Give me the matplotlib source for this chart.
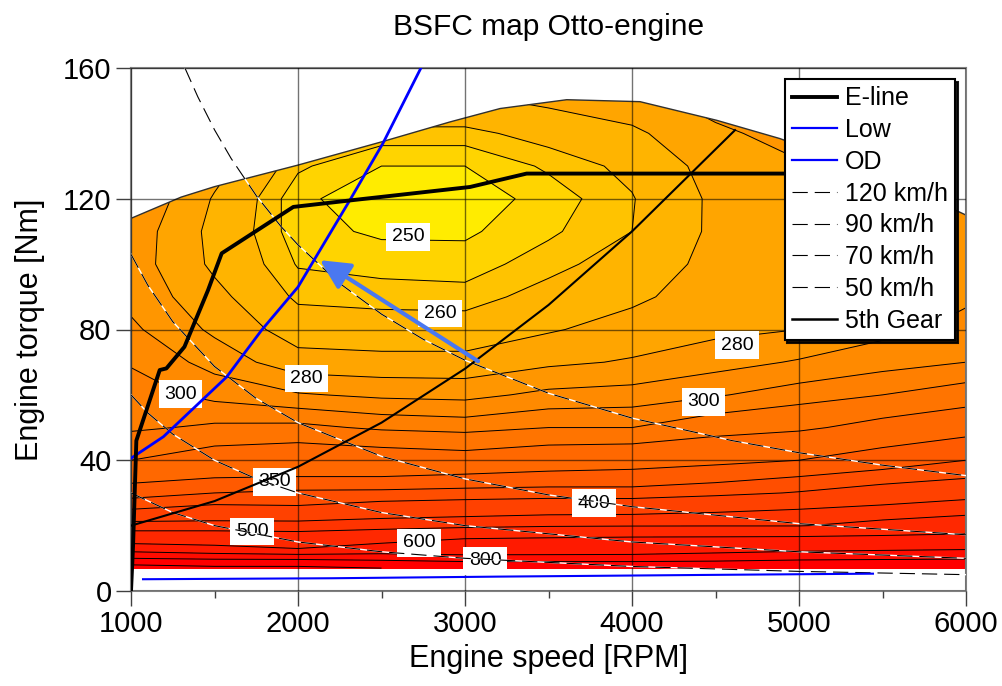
import numpy as np
import matplotlib
matplotlib.use("Agg")
import matplotlib.pyplot as plt
from matplotlib.patches import Polygon
from matplotlib.lines import Line2D

plt.rcParams['font.family'] = ['Liberation Sans', 'DejaVu Sans']
plt.rcParams['lines.scale_dashes'] = False

# ---------------- data ----------------
speed_grid = [1000, 1500, 2000, 2500, 3000, 3500, 4000, 4500, 5000, 5500, 6000]
torque_grid = [7, 10, 13, 16, 20, 25, 30, 35, 40, 50, 60, 70, 80, 90, 100, 110, 120, 130, 140, 150, 160]

# BSFC [g/kWh] per speed column, one value per torque row
bsfc_1000 = [1100, 800, 650, 550, 467, 400, 363, 341, 325, 308, 305, 299, 292, 287, 285, 286, 290, 295, 300, 305, 310]
bsfc_1500 = [1050, 775, 625, 550, 467, 410, 375, 348, 335, 312, 297, 286, 278, 273, 268, 267, 269, 274, 280, 288, 296]
bsfc_2000 = [1050, 767, 600, 540, 467, 406, 380, 350, 339, 313, 291, 274, 265, 258.5, 254.5, 252, 251.5, 256, 264, 275, 286]
bsfc_2500 = [1000, 750, 643, 563, 475, 418, 381, 350, 336, 308, 288, 273, 264, 257.5, 253, 249, 246, 250, 258, 268, 278]
bsfc_3000 = [950, 725, 655, 600, 483, 423, 384, 353, 333, 306, 287, 273, 264, 257, 252.5, 249, 247, 250, 258, 268, 278]
bsfc_3500 = [950, 725, 658, 608, 493, 428, 386, 356, 338, 310, 292.5, 278, 269, 263, 257.7, 254, 252, 256, 263, 272, 281]
bsfc_4000 = [950, 725, 662, 615, 496, 429, 385, 358, 340, 310, 294, 281, 274, 268, 264, 260, 259.5, 262, 268, 276, 284]
bsfc_4500 = [950, 740, 667, 617, 497, 439, 392, 365, 344, 318, 299, 286, 277.5, 275, 273, 272, 272, 274, 278, 284, 290]
bsfc_5000 = [960, 767, 673, 620, 497, 450, 402, 375, 350, 322, 305, 291, 280, 278, 277, 277, 277, 279, 284, 290, 296]
bsfc_5500 = [980, 775, 682, 626, 520, 462, 417, 385, 362, 331, 310, 296, 287, 283, 281.5, 281.5, 282, 284.5, 289.5, 295, 300]
bsfc_6000 = [1000, 783, 690, 633, 543, 475, 433, 396, 375, 340, 316, 300, 293, 288.5, 286, 286, 287, 290, 295, 300, 305]

bsfc_levels = [240, 250, 255, 260, 270, 280, 290, 300, 310, 325, 350, 375, 400, 450, 500, 600, 700, 800, 1000, 3000]

# full-load (max torque) curve
fullload_rpm = [1000, 1300, 1500, 2000, 2500, 2910, 3210, 3609, 4048, 4507, 4886, 5500, 6000]
fullload_nm = [114, 120.5, 123.7, 130.3, 137.4, 143.5, 147.6, 150.3, 149.7, 144, 138.4, 127, 115]

# E-line
eline_rpm = [1000, 1012, 1032, 1172, 1212, 1320, 1461, 1543, 1972, 2331, 3030, 3369, 5850]
eline_nm = [0, 13.5, 46, 67.6, 68.1, 74.7, 92, 103.3, 117.5, 119.6, 123.6, 127.7, 127.7]

# Low gear road load
low_rpm = [1000, 1194, 1573, 1782, 2000, 2132, 2311, 2509, 2736]
low_nm = [40.6, 47.2, 65.5, 79.8, 93, 104.3, 119.6, 137, 160]

# Overdrive road load
od_rpm = [1072, 2200, 3200, 4400, 5443]
od_nm = [3.6, 3.9, 4.4, 4.9, 5.3]

# 5th gear road load
gear5_rpm = [1000, 1500, 2000, 2500, 3000, 3500, 4000, 4617]
gear5_nm = [20, 27.5, 38, 51.5, 68, 87.5, 110, 141]

# constant vehicle speed curves
v120_rpm = [1323, 1400, 1500, 1600, 1752, 1900, 2000, 2250, 2500, 2750, 3000, 3500, 4000, 4600, 5000, 5500, 6000]
v120_nm = [160, 151.2, 141.1, 132.3, 120.8, 111.4, 105.9, 94.1, 84.7, 77, 70.6, 60.5, 52.9, 46, 42.3, 38.5, 35.3]
v90_rpm = [1000, 1100, 1250, 1500, 1750, 2000, 2500, 3000, 3500, 4000, 5000, 6000]
v90_nm = [103, 93.6, 82.4, 68.7, 58.9, 51.5, 41.2, 34.3, 29.4, 25.8, 20.6, 17.2]
v70_rpm = [1000, 1100, 1250, 1500, 1750, 2000, 2500, 3000, 4000, 5000, 6000]
v70_nm = [60, 54.5, 48, 40, 34.3, 30, 24, 20, 15, 12, 10]
v50_rpm = [1000, 1250, 1500, 2000, 2500, 3000, 4000, 5000, 6000]
v50_nm = [30, 24, 20, 15, 12, 10, 7.5, 6, 5]

# arrow (tail -> head)
arrow_rpm = [3078, 2132]
arrow_nm = [70.3, 101.2]

# contour labels
label_text = ['250', '260', '280', '280', '300', '300', '350', '400', '500', '600', '800']
label_rpm = [2659, 2850, 2052, 4630, 1297, 4427, 1860, 3772, 1725, 2725, 3120]
label_nm = [108.3, 84.9, 65.0, 75.2, 60.2, 57.9, 33.4, 26.8, 18.2, 14.7, 9.3]

# ---------------- styling ----------------
band_colors = ['#ffec00', '#ffd400', '#ffc300', '#ffb400', '#ffa500', '#ff9600',
               '#ff8a00', '#ff7f00', '#ff7400', '#ff6800', '#ff5a00', '#ff4e00',
               '#ff4100', '#ff3400', '#ff2800', '#ff1a00', '#ff0c00', '#ff0000', '#ff0000']

fig = plt.figure(figsize=(10.02, 6.86), dpi=100)
ax = fig.add_axes([131 / 1002, 1 - 591 / 686, 835 / 1002, 523 / 686])

Z = np.column_stack([bsfc_1000, bsfc_1500, bsfc_2000, bsfc_2500, bsfc_3000, bsfc_3500,
                     bsfc_4000, bsfc_4500, bsfc_5000, bsfc_5500, bsfc_6000])

cf = ax.contourf(speed_grid, torque_grid, Z, levels=bsfc_levels, colors=band_colors, zorder=1)
cl = ax.contour(speed_grid, torque_grid, Z, levels=bsfc_levels[1:-1], colors='black',
                linewidths=0.7, zorder=2)

clip = Polygon(list(zip(fullload_rpm + [6000, 1000], fullload_nm + [0, 0])), closed=True,
               transform=ax.transData, facecolor='none', edgecolor='none')
ax.add_patch(clip)
cf.set_clip_path(clip)
cl.set_clip_path(clip)
ax.plot(fullload_rpm, fullload_nm, color='#303030', lw=1.0, zorder=2.2)

# contour labels
for t, r, n in zip(label_text, label_rpm, label_nm):
    ax.text(r, n, t, ha='center', va='center', fontsize=14, zorder=3.5,
            bbox=dict(boxstyle='square,pad=0.28', fc='white', ec='none'))

# vehicle speed curves
dash = (11, 5)
for r, n in [(v120_rpm, v120_nm), (v90_rpm, v90_nm), (v70_rpm, v70_nm), (v50_rpm, v50_nm)]:
    ax.plot(r, n, color='white', lw=1.0, zorder=4)
    ax.plot(r, n, color='black', lw=0.8, dashes=dash, zorder=4.1)

ax.plot(gear5_rpm, gear5_nm, color='black', lw=1.5, zorder=4.5)
ax.plot(low_rpm, low_nm, color='#0000ff', lw=2.0, zorder=4.6)
ax.plot(od_rpm, od_nm, color='#0000ff', lw=1.5, zorder=4.6)
ax.plot(eline_rpm, eline_nm, color='black', lw=2.8, zorder=5)

ax.annotate('', xy=(arrow_rpm[1], arrow_nm[1]), xytext=(arrow_rpm[0], arrow_nm[0]),
            arrowprops=dict(arrowstyle='-|>,head_length=0.9,head_width=0.45', color='#4a78f0',
                            lw=3, mutation_scale=20, shrinkA=0, shrinkB=0), zorder=5.5)

# axes
ax.set_xlim(1000, 6000)
ax.set_ylim(0, 160)
ax.set_xticks([1000, 2000, 3000, 4000, 5000, 6000])
ax.set_xticks([1500, 2500, 3500, 4500, 5500], minor=True)
ax.set_yticks([0, 40, 80, 120, 160])
ax.set_axisbelow(False)
ax.grid(True, which='major', color='black', alpha=0.55, lw=1.0)
ax.tick_params(axis='both', which='major', direction='out', length=11, width=1.0,
               color='#404040', labelsize=21, pad=3)
ax.tick_params(axis='x', which='minor', direction='out', length=5, width=1.0, color='#404040')
for s in ax.spines.values():
    s.set_color('#808080')
    s.set_linewidth(1.5)

ax.set_title('BSFC map Otto-engine', fontsize=21.5, pad=24)
ax.set_xlabel('Engine speed [RPM]', fontsize=22, labelpad=4)
ax.set_ylabel('Engine torque [Nm]', fontsize=22, labelpad=13)

handles = [
    Line2D([], [], color='black', lw=2.8),
    Line2D([], [], color='#0000ff', lw=1.6),
    Line2D([], [], color='#0000ff', lw=1.6),
    Line2D([], [], color='black', lw=0.8, dashes=dash),
    Line2D([], [], color='black', lw=0.8, dashes=dash),
    Line2D([], [], color='black', lw=0.8, dashes=dash),
    Line2D([], [], color='black', lw=0.8, dashes=dash),
    Line2D([], [], color='black', lw=1.8),
]
labels = ['E-line', 'Low', 'OD', '120 km/h', '90 km/h', '70 km/h', '50 km/h', '5th Gear']
leg = ax.legend(handles, labels, loc='upper right', bbox_to_anchor=(0.987, 0.979),
                fontsize=18, frameon=True, fancybox=False, framealpha=1,
                edgecolor='black', shadow={'color': 'black', 'alpha': 0.9},
                borderpad=0.3, labelspacing=0.31, handlelength=1.8, handletextpad=0.3,
                borderaxespad=0)
leg.get_frame().set_linewidth(1.5)
leg.set_zorder(10)

fig.savefig('out.png', dpi=100)
